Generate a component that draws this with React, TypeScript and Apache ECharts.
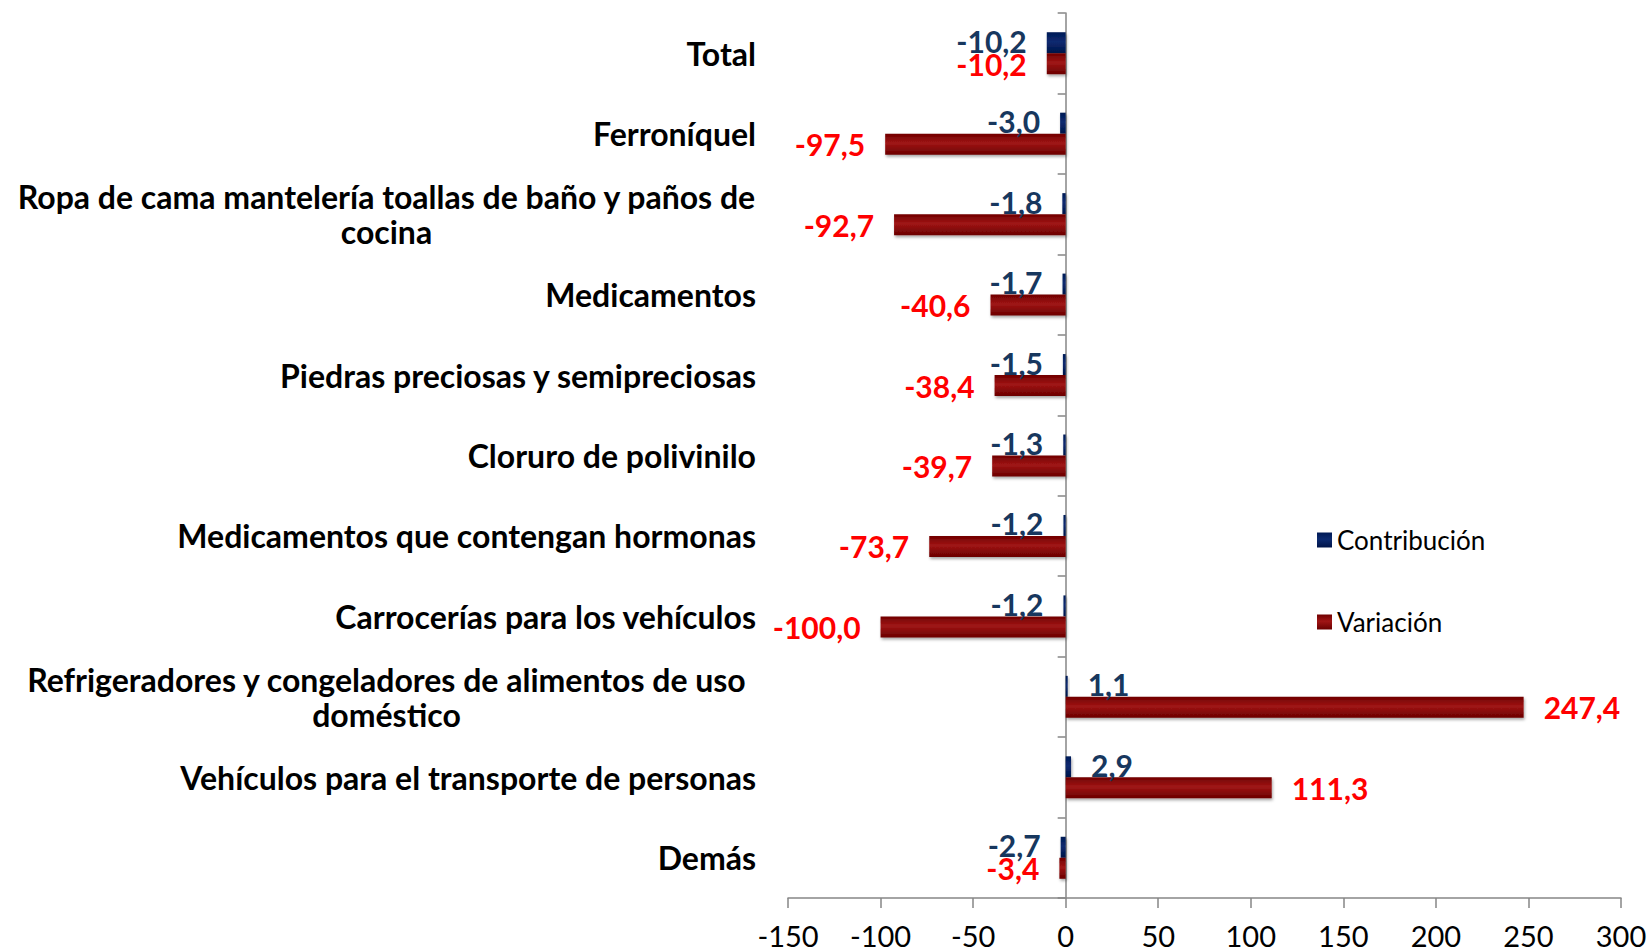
import React, { useEffect, useRef } from "react";
import * as echarts from "echarts";

const categories = [
  "Total",
  "Ferroníquel",
  "Ropa de cama mantelería toallas de baño y paños de\ncocina",
  "Medicamentos",
  "Piedras preciosas y semipreciosas",
  "Cloruro de polivinilo",
  "Medicamentos que contengan hormonas",
  "Carrocerías para los vehículos",
  "Refrigeradores y congeladores de alimentos de uso\ndoméstico",
  "Vehículos para el transporte de personas",
  "Demás",
];
const contribucion = [-10.2, -3.0, -1.8, -1.7, -1.5, -1.3, -1.2, -1.2, 1.1, 2.9, -2.7];
const variacion = [-10.2, -97.5, -92.7, -40.6, -38.4, -39.7, -73.7, -100.0, 247.4, 111.3, -3.4];
const xTicks = { min: -150, max: 300, interval: 50 };

const FONT = "Lato, 'Liberation Sans', sans-serif";
const CAT_SIZE = 32;
const VAL_SIZE = 30;

function measure(text: string, size: number, weight: string) {
  const c = document.createElement("canvas").getContext("2d");
  if (!c) return text.length * size * 0.5;
  c.font = `${weight} ${size}px Lato`;
  return c.measureText(text).width;
}

const fmt = (v: number) => v.toFixed(1).replace(".", ",");

export default function App() {
  const ref = useRef<HTMLDivElement>(null);
  useEffect(() => {
    if (!ref.current) return;
    const chart = echarts.init(ref.current, null, { renderer: "svg" });

    const mkData = (arr: number[]) =>
      arr.map((v) => ({
        value: v,
        label: { position: v < 0 ? "left" : "right" },
      }));

    const barStyle = (c1: string, c2: string, c3: string) => ({
      color: new echarts.graphic.LinearGradient(0, 0, 0, 1, [
        { offset: 0, color: c1 },
        { offset: 0.45, color: c2 },
        { offset: 1, color: c3 },
      ]),
      shadowColor: "rgba(0,0,0,0.35)",
      shadowBlur: 3,
      shadowOffsetX: 1,
      shadowOffsetY: 2,
    });

    const longest = Math.max(
      ...categories
        .filter((c) => c.indexOf("\n") >= 0)
        .map((c) => c.split("\n")[0])
        .map((l) => measure(l, CAT_SIZE, "bold"))
    );

    const option: any = {
      animation: false,
      color: ["#0c2a70", "#8b0000"],
      textStyle: { fontFamily: FONT },
      grid: {
        left: 788,
        right: 30,
        top: 13,
        bottom: 54,
        containLabel: false,
        outerBoundsMode: "none",
      },
      legend: [
        {
          data: ["Contribución"],
          left: 1312,
          top: 522,
          itemWidth: 15,
          itemHeight: 15,
          icon: "rect",
          textStyle: { fontFamily: FONT, fontSize: 26, color: "#000" },
        },
        {
          data: ["Variación"],
          left: 1312,
          top: 604,
          itemWidth: 15,
          itemHeight: 15,
          icon: "rect",
          textStyle: { fontFamily: FONT, fontSize: 26, color: "#000" },
        },
      ],
      xAxis: {
        type: "value",
        min: xTicks.min,
        max: xTicks.max,
        interval: xTicks.interval,
        splitLine: { show: false },
        axisLine: { show: true, lineStyle: { color: "#868686", width: 1.5 } },
        axisTick: { show: true, length: 10, lineStyle: { color: "#868686", width: 1.5 } },
        axisLabel: { fontFamily: FONT, fontSize: 29, color: "#000", margin: 23 },
      },
      yAxis: {
        type: "category",
        inverse: true,
        data: categories,
        axisLine: { show: true, onZero: true, lineStyle: { color: "#868686", width: 1.5 } },
        axisTick: { show: true, length: 8, lineStyle: { color: "#868686", width: 1.5 } },
        axisLabel: {
          margin: 32,
          fontFamily: FONT,
          fontSize: CAT_SIZE,
          fontWeight: "bold",
          color: "#000",
          lineHeight: 35,
          formatter: (val: string) => {
            if (val.indexOf("\n") < 0) return val;
            return val
              .split("\n")
              .map((l) => `{c|${l}}`)
              .join("\n");
          },
          rich: {
            c: {
              fontFamily: FONT,
              fontSize: CAT_SIZE,
              fontWeight: "bold",
              color: "#000",
              lineHeight: 35,
              align: "center",
              width: longest,
            },
          },
        },
      },
      series: [
        {
          name: "Contribución",
          type: "bar",
          barWidth: 21,
          barGap: "0%",
          data: mkData(contribucion),
          itemStyle: barStyle("#001a55", "#0c2a70", "#001448"),
          label: {
            show: true,
            distance: 20,
            offset: [0, -2],
            formatter: (p: any) => fmt(p.value),
            fontFamily: FONT,
            fontSize: VAL_SIZE,
            fontWeight: "bold",
            color: "#17375E",
          },
        },
        {
          name: "Variación",
          type: "bar",
          barWidth: 21,
          barGap: "0%",
          data: mkData(variacion),
          itemStyle: barStyle("#700000", "#a01515", "#6a0000"),
          label: {
            show: true,
            distance: 20,
            formatter: (p: any) => fmt(p.value),
            fontFamily: FONT,
            fontSize: VAL_SIZE,
            fontWeight: "bold",
            color: "#FF0000",
          },
        },
      ],
    };
    chart.setOption(option);
    return () => chart.dispose();
  }, []);
  return (
    <div
      ref={ref}
      style={{ position: "absolute", left: 0, top: 0, width: 1651, height: 952 }}
    />
  );
}
